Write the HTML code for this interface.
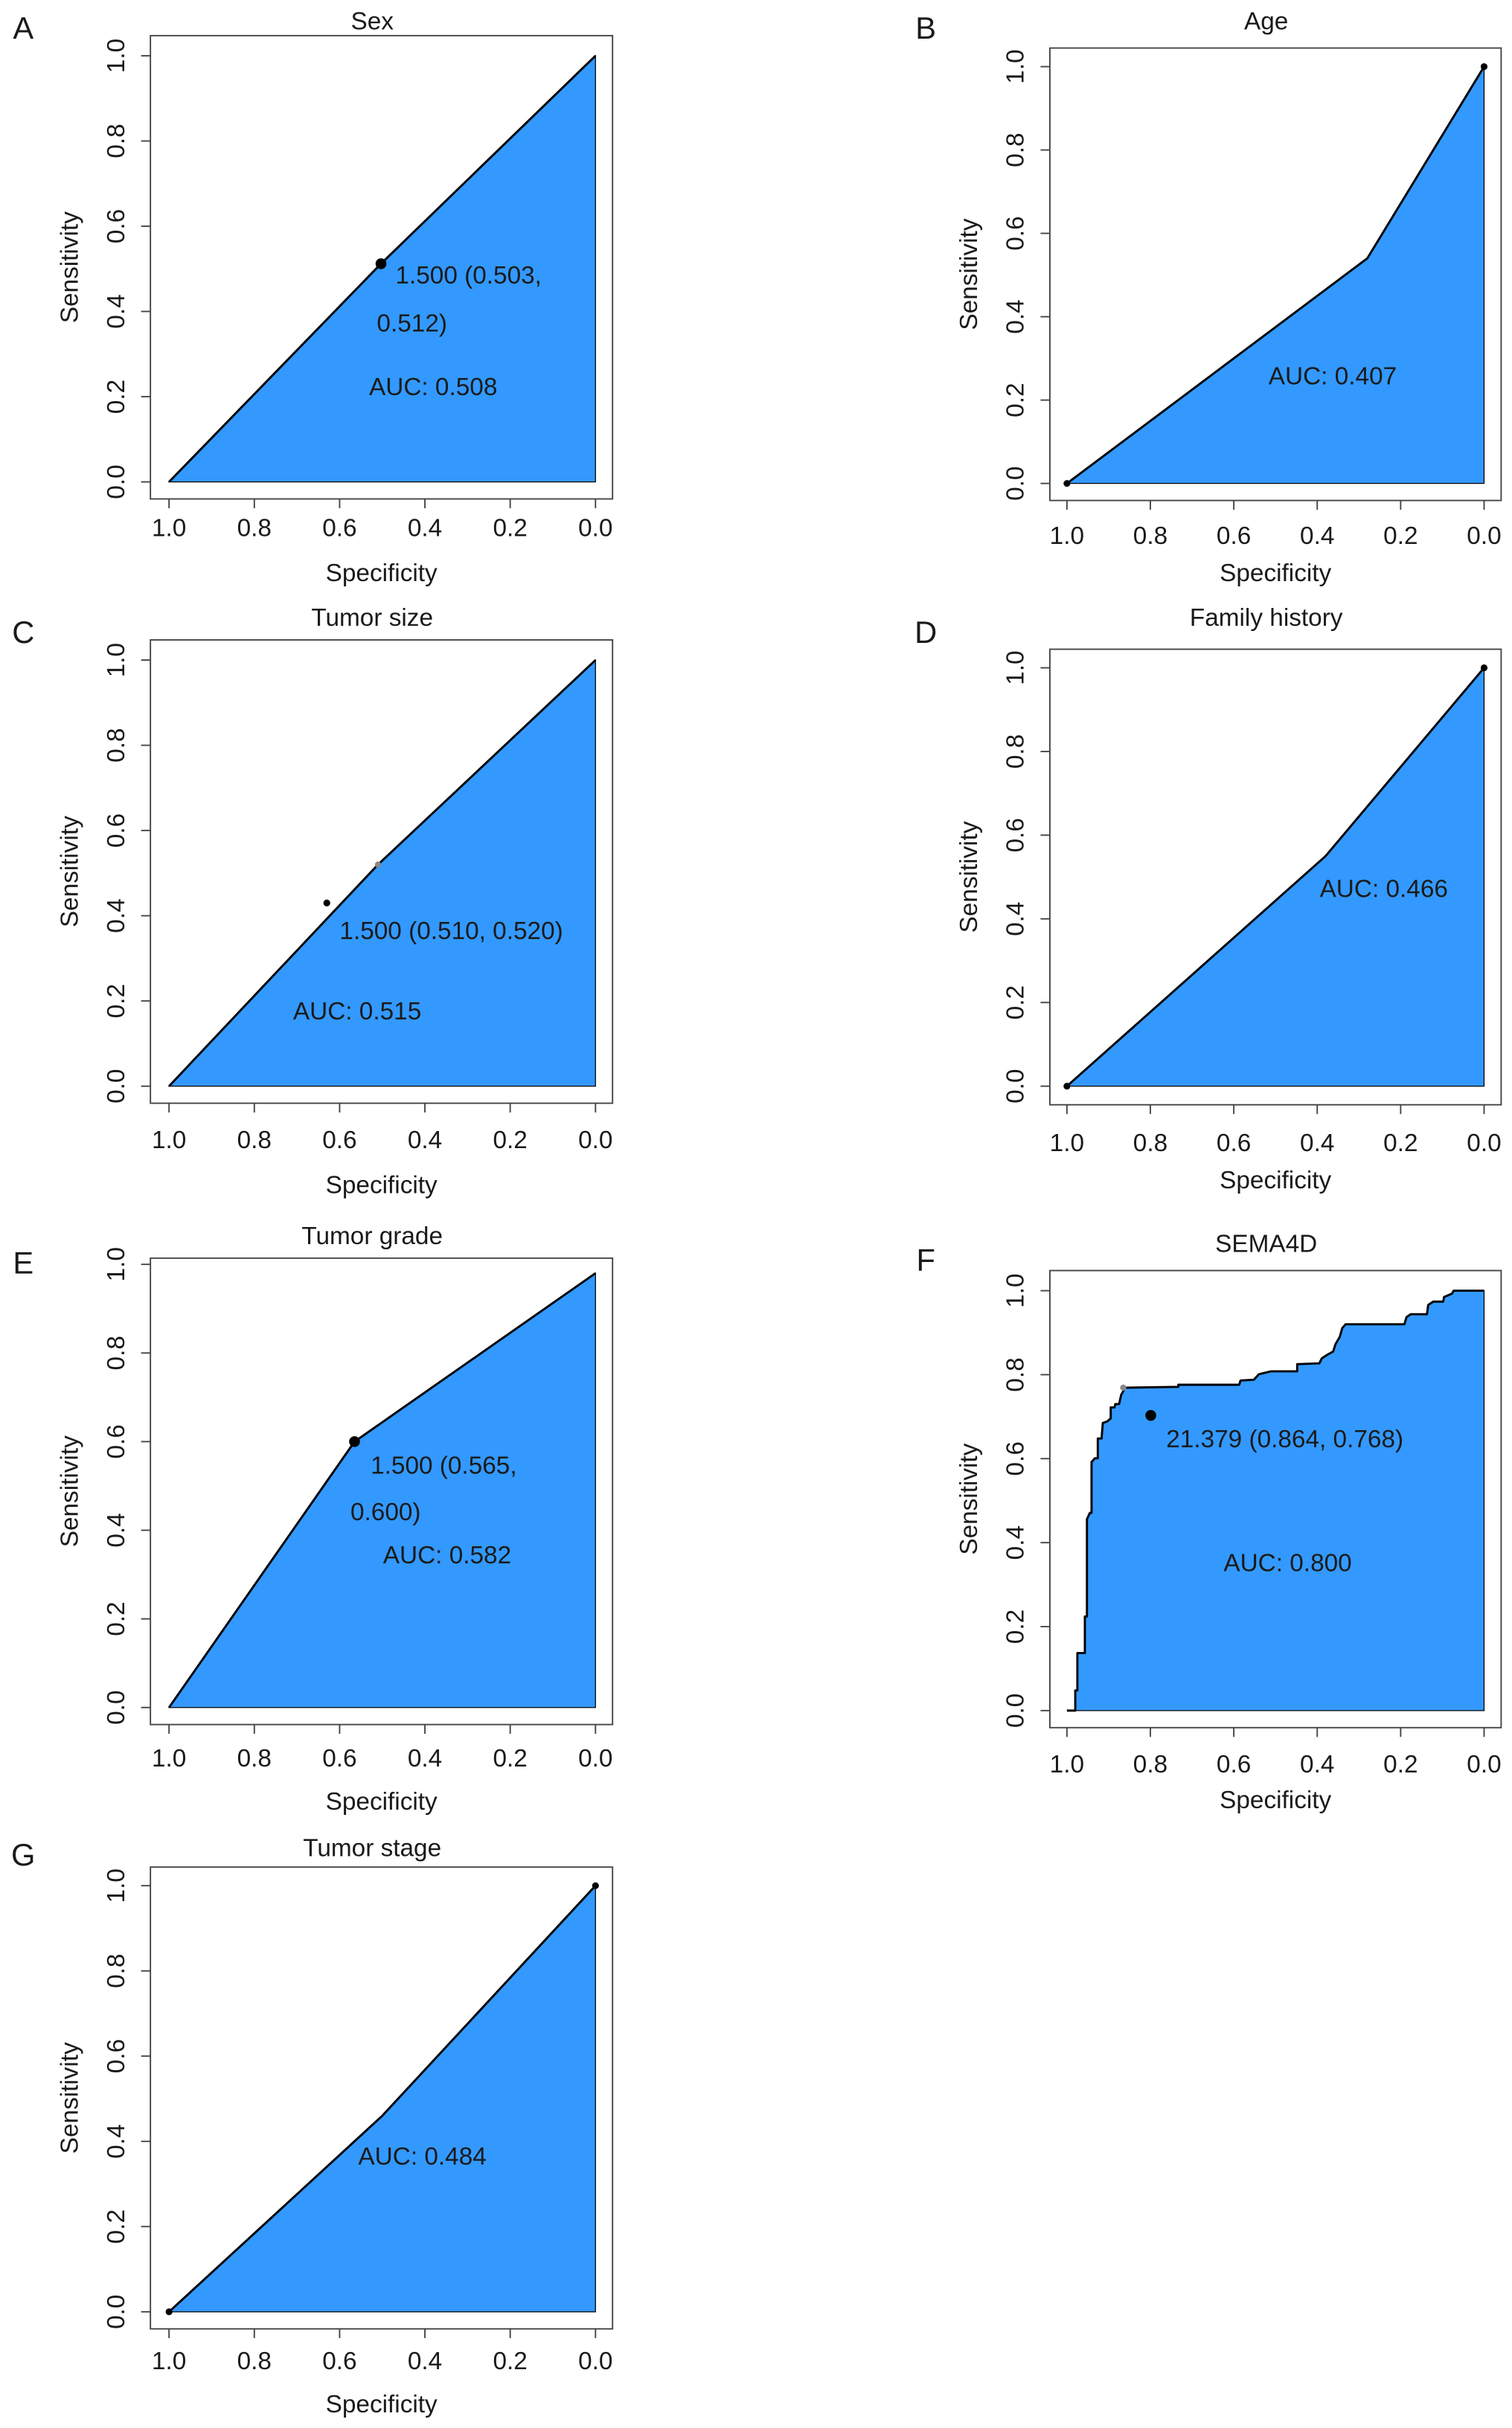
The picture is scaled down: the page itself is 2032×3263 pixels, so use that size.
<!DOCTYPE html>
<html><head><meta charset="utf-8">
<style>
html,body{margin:0;padding:0;background:#fff;}
svg{display:block;}
text{font-family:"Liberation Sans",Arial,sans-serif;fill:#1a1a1a;}
</style></head>
<body>
<svg id="fig" xmlns="http://www.w3.org/2000/svg" width="2032" height="3263" viewBox="0 0 975 1567" preserveAspectRatio="none"></svg>
<script>
// ---- data ----
const panelLetters = ["A","B","C","D","E","F","G"];
const panelTitles = ["Sex","Age","Tumor size","Family history","Tumor grade","SEMA4D","Tumor stage"];
const specA = [1, 0.503, 0];            const sensA = [0, 0.512, 1];
const specB = [1, 0.28, 0];             const sensB = [0, 0.54, 1];
const specC = [1, 0.51, 0];             const sensC = [0, 0.52, 1];
const specD = [1, 0.38, 0];             const sensD = [0, 0.55, 1];
const specE = [1, 0.565, 0];            const sensE = [0, 0.6, 0.98];
const specF = [1,0.98,0.98,0.975,0.975,0.957,0.957,0.952,0.952,0.945,0.941,0.941,0.933,0.926,0.926,0.917,0.914,0.903,0.895,0.895,0.886,0.884,0.875,0.870,0.860,0.733,0.733,0.587,0.584,0.552,0.540,0.511,0.448,0.448,0.395,0.389,0.375,0.362,0.356,0.346,0.340,0.332,0.191,0.186,0.176,0.137,0.134,0.122,0.098,0.096,0.077,0.073,0];
const sensF = [0,0,0.048,0.048,0.137,0.137,0.224,0.224,0.456,0.471,0.471,0.592,0.601,0.601,0.648,0.648,0.685,0.689,0.696,0.722,0.722,0.730,0.730,0.752,0.769,0.771,0.776,0.776,0.786,0.788,0.801,0.808,0.808,0.825,0.827,0.839,0.848,0.855,0.873,0.890,0.911,0.920,0.920,0.937,0.944,0.944,0.966,0.974,0.974,0.985,0.993,1.0,1.0];
const specG = [1, 0.5, 0];              const sensG = [0, 0.46, 1];
const tickValues = [1.0,0.8,0.6,0.4,0.2,0.0];
const tickLabels = ["1.0","0.8","0.6","0.4","0.2","0.0"];
const ytickValues = [0.0,0.2,0.4,0.6,0.8,1.0];
const ytickLabels = ["0.0","0.2","0.4","0.6","0.8","1.0"];
const aucLabels = ["AUC: 0.508","AUC: 0.407","AUC: 0.515","AUC: 0.466","AUC: 0.582","AUC: 0.800","AUC: 0.484"];

const panels = [
 {spec:specA,sens:sensA,box:[97,23,395,322],x1:109,x0:384,y1:36,y0:311,tx:341,sx:370,let:[15,18],t:14,
  auc:[238,255],ann:[["1.500 (0.503,",255,183],["0.512)",243,214]],dots:[[0.503,0.512,3.5,"#000"]],endDots:false},
 {spec:specB,sens:sensB,box:[677,31,968,323],x1:688,x0:957,y1:43,y0:312,tx:346,sx:370,let:[597,18],t:14,
  auc:[818,248],ann:[],dots:[],endDots:true},
 {spec:specC,sens:sensC,box:[97,413,395,712],x1:109,x0:384,y1:426,y0:701,tx:736,sx:765,let:[15,408],t:399,
  auc:[189,658],ann:[["1.500 (0.510, 0.520)",219,606]],dots:[[0.63,0.43,2.2,"#000"],[0.51,0.52,2,"#888"]],endDots:false},
 {spec:specD,sens:sensD,box:[677,419,968,713],x1:688,x0:957,y1:431,y0:701,tx:738,sx:762,let:[597,408],t:399,
  auc:[851,579],ann:[],dots:[],endDots:true},
 {spec:specE,sens:sensE,box:[97,812,395,1113],x1:109,x0:384,y1:816,y0:1102,tx:1135,sx:1163,let:[15,815],t:798,
  auc:[247,1009],ann:[["1.500 (0.565,",239,951],["0.600)",226,981]],dots:[[0.565,0.6,3.5,"#000"]],endDots:false},
 {spec:specF,sens:sensF,box:[677,820,968,1115],x1:688,x0:957,y1:833,y0:1104,tx:1139,sx:1162,let:[597,813],t:803,
  auc:[789,1014],ann:[["21.379 (0.864, 0.768)",752,934]],dots:[[0.799,0.703,3.5,"#000"],[0.865,0.769,2,"#888"]],endDots:false},
 {spec:specG,sens:sensG,box:[97,1205,395,1503],x1:109,x0:384,y1:1217,y0:1492,tx:1524,sx:1552,let:[15,1197],t:1193,
  auc:[231,1397],ann:[],dots:[],endDots:true}
];

const NS="http://www.w3.org/2000/svg";
const svg=document.getElementById('fig');
function mk(tag,attrs,parent){const e=document.createElementNS(NS,tag);for(const k in attrs)e.setAttribute(k,attrs[k]);(parent||svg).appendChild(e);return e;}
const FS=16;

panels.forEach((p,i)=>{
  const g=mk('g',{});
  
  
  const xs=v=>p.x0+(p.x1-p.x0)*v;
  const ys=v=>p.y0+(p.y1-p.y0)*v;
  const [bl,bt,br,bb]=p.box;
  const cx=(bl+br)/2;
  const L=mk('text',{x:p.let[0],y:p.let[1]+7,'font-size':20,'text-anchor':'middle'},g);L.textContent=panelLetters[i];
  
  
  const T=mk('text',{x:cx-6,y:p.t+5,'font-size':FS,'text-anchor':'middle'},g);T.textContent=panelTitles[i];
  
  
  let d='M'+xs(p.spec[0])+','+ys(p.sens[0]);
  for(let k=1;k<p.spec.length;k++) d+=' L'+xs(p.spec[k])+','+ys(p.sens[k]);
  const fill=mk('path',{d:d+' L'+xs(0)+','+ys(0)+' Z',fill:'#3399ff',stroke:'#000','stroke-width':0.6},g);
  
  
  const line=mk('path',{d:d,fill:'none',stroke:'#000','stroke-width':1.4,'stroke-linejoin':'round'},g);
  
  
  const box=mk('rect',{x:bl,y:bt,width:br-bl,height:bb-bt,fill:'none',stroke:'#444','stroke-width':0.9},g);
  
  
  tickValues.forEach((v,j)=>{
    mk('line',{x1:xs(v),x2:xs(v),y1:bb,y2:bb+6,stroke:'#444','stroke-width':0.9},g);
    const t=mk('text',{x:xs(v),y:p.tx+5,'font-size':FS,'text-anchor':'middle'},g);t.textContent=tickLabels[j];
    
    
  });
  ytickValues.forEach((v,j)=>{
    mk('line',{x1:bl,x2:bl-6,y1:ys(v),y2:ys(v),stroke:'#444','stroke-width':0.9},g);
    const tx=bl-22;
    const t=mk('text',{x:tx,y:ys(v),'font-size':FS,'text-anchor':'middle','dominant-baseline':'central',transform:'rotate(-90 '+tx+' '+ys(v)+')'},g);t.textContent=ytickLabels[j];
    
    
  });
  const xt=mk('text',{x:cx,y:p.sx+5,'font-size':FS,'text-anchor':'middle'},g);xt.textContent='Specificity';
  
  
  const yx=bl-52,yy=(bt+bb)/2;
  const yt=mk('text',{x:yx,y:yy,'font-size':FS,'text-anchor':'middle','dominant-baseline':'central',transform:'rotate(-90 '+yx+' '+yy+')'},g);yt.textContent='Sensitivity';
  
  
  p.dots.forEach(dt=>{
    const c=mk('circle',{cx:xs(dt[0]),cy:ys(dt[1]),r:dt[2],fill:dt[3]},g);
    
    
  });
  if(p.endDots){
    [[1,0],[0,1]].forEach(e=>{
      const c=mk('circle',{cx:xs(e[0]),cy:ys(e[1]),r:2.2,fill:'#000'},g);
      
      
    });
  }
  p.ann.forEach(a=>{
    const t=mk('text',{x:a[1],y:a[2],'font-size':FS},g);t.textContent=a[0];
    
    
  });
  const au=mk('text',{x:p.auc[0],y:p.auc[1],'font-size':FS},g);au.textContent=aucLabels[i];
  
  
});
</script>
</body></html>
